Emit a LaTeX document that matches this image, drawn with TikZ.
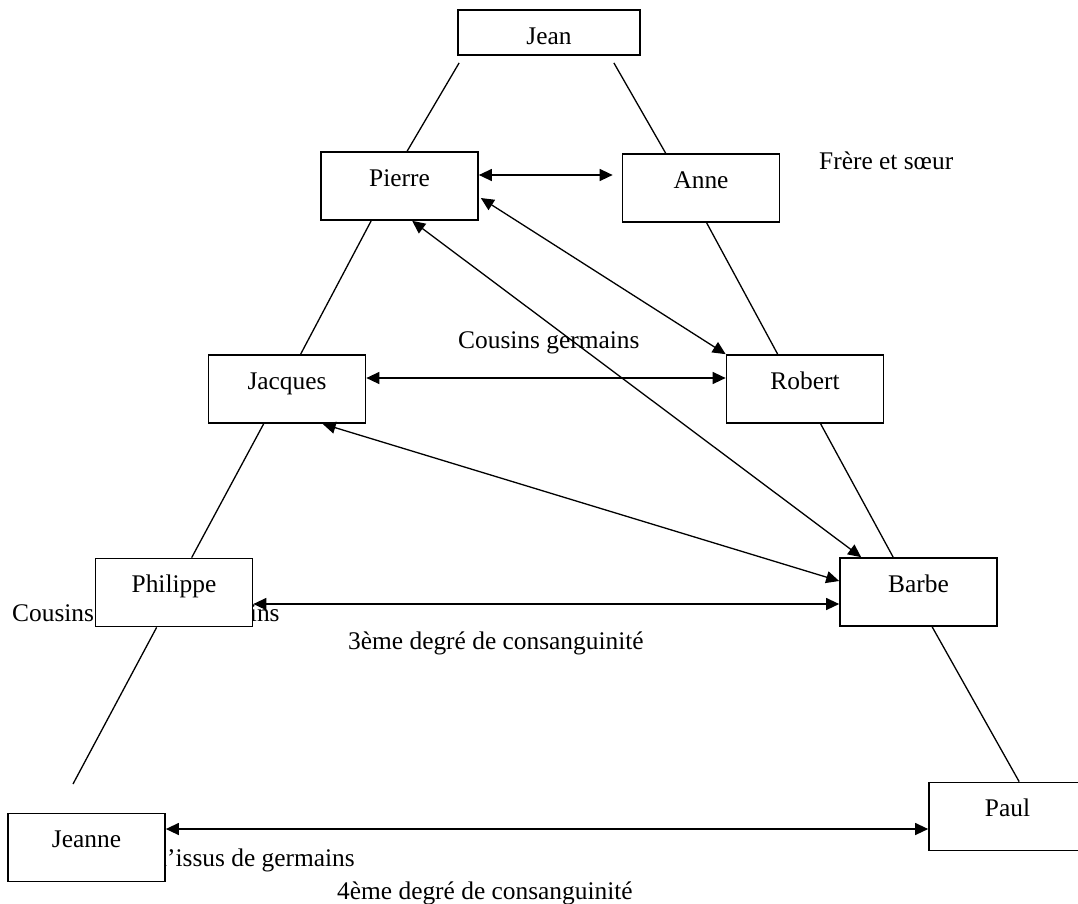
\documentclass[tikz,border=0pt]{standalone}
\usepackage{fontspec}
\setmainfont{Liberation Serif}
\usetikzlibrary{arrows.meta}
\begin{document}
\begin{tikzpicture}[x=1pt, y=-1pt, >={Triangle[length=13pt,width=12pt]},
				every node/.style={font=\fontsize{25.4}{30}\selectfont},
				personne/.style={draw, fill=white, line width=1.7pt, minimum width=157pt, minimum height=68pt, text height=0.7em, text depth=0.7em, inner sep=0pt},
				lien/.style={line width=1.3pt},
				fleche/.style={<->, line width=1.3pt},
				texte/.style={inner sep=0pt}]
				\useasboundingbox (0,0) rectangle (1078,903);
				
				% --- 1. libellés (sous les cases) ---
				\node[texte, anchor=base west] (lsoeur) at (819,169) {Frère et sœur};
				\node[texte, anchor=base west] (lgermains) at (458,348) {Cousins germains};
				\node[texte, anchor=base west] (lissus) at (12,621) {Cousins issus de germains};
				\node[texte, anchor=base west] (ldegre3) at (348,649) {3ème degré de consanguinité};
				\node[texte, anchor=base east] (lissus2) at (355,866) {Cousins issus d’issus de germains};
				\node[texte, anchor=base west] (ldegre4) at (337,899) {4ème degré de consanguinité};
				
				% --- 2. les personnes ---
				\node[personne, minimum width=182pt, minimum height=45pt, text height=23pt, text depth=0pt] (jean) at (549,32.5) {Jean};
				\node[personne] (pierre) at (399.5,186) {Pierre};
				\node[personne] (anne) at (701,188) {Anne};
				\node[personne] (jacques) at (287,389) {Jacques};
				\node[personne] (robert) at (805,389) {Robert};
				\node[personne] (philippe) at (174,592.5) {Philippe};
				\node[personne] (barbe) at (918.5,592) {Barbe};
				\node[personne] (jeanne) at (86.5,847.5) {Jeanne};
				\node[personne] (paul) at (1007.5,816.5) {Paul};
				\coordinate (bout) at (73,784);
				
				% --- 3. lignes de filiation ---
				\draw[lien] ([xshift=2pt,yshift=-7pt]jean.south west) -- ([xshift=87pt]pierre.north west);
				\draw[lien] ([xshift=-27pt,yshift=-7pt]jean.south east) -- ([xshift=44pt]anne.north west);
				\draw[lien] ([xshift=51pt]pierre.south west) -- ([xshift=93pt]jacques.north west);
				\draw[lien] ([xshift=56pt]jacques.south west) -- ([xshift=97pt]philippe.north west);
				\draw[lien] ([xshift=62pt]philippe.south west) -- (bout);
				\draw[lien] ([xshift=85pt]anne.south west) -- ([xshift=52pt]robert.north west);
				\draw[lien] ([xshift=95pt]robert.south west) -- ([xshift=54pt]barbe.north west);
				\draw[lien] ([xshift=93pt]barbe.south west) -- ([xshift=91pt]paul.north west);
				
				% --- 4. degrés de parenté ---
				\draw[fleche] ([yshift=11pt]pierre.east) -- ([xshift=-9pt,yshift=13pt]anne.west);
				\draw[fleche] ([xshift=2pt,yshift=-12pt]pierre.east) -- (robert.north west);
				\draw[fleche] ([xshift=92pt]pierre.south west) -- ([xshift=22pt]barbe.north west);
				\draw[fleche] ([yshift=11pt]jacques.east) -- ([yshift=11pt]robert.west);
				\draw[fleche] ([xshift=115pt]jacques.south west) -- ([yshift=11pt]barbe.west);
				\draw[fleche] ([yshift=-11.5pt]philippe.east) -- ([yshift=-12pt]barbe.west);
				\draw[fleche] ([yshift=18.5pt]jeanne.east) -- ([yshift=-12.5pt]paul.west);
				
\end{tikzpicture}
\end{document}
